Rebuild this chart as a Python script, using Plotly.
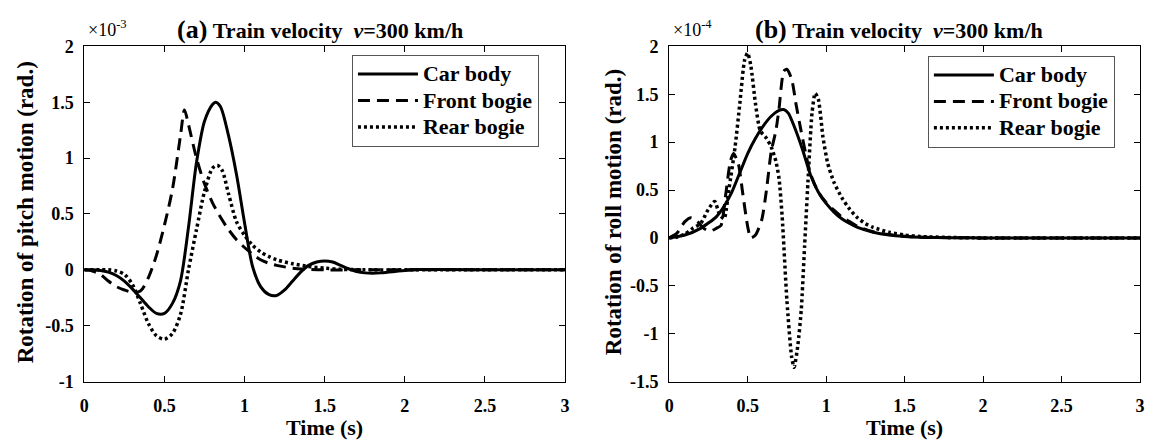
import plotly.graph_objects as go

# ---- (a) pitch rotation, values in units of 1e-3 rad ----
t_car_a = [0, 0.05, 0.1, 0.15, 0.2, 0.25, 0.3, 0.35, 0.4, 0.45, 0.5, 0.55, 0.6, 0.65, 0.7,
           0.75, 0.8, 0.82, 0.85, 0.9, 0.95, 1.0, 1.05, 1.1, 1.15, 1.2, 1.25, 1.3, 1.35, 1.4,
           1.45, 1.5, 1.55, 1.6, 1.65, 1.7, 1.75, 1.8, 1.85, 1.9, 1.95, 2.0, 2.1, 2.2, 2.4,
           2.6, 3.0]
car_a = [0, 0, -0.005, -0.02, -0.05, -0.1, -0.17, -0.25, -0.33, -0.39, -0.39, -0.3, -0.1,
         0.38, 0.96, 1.33, 1.48, 1.5, 1.46, 1.2, 0.85, 0.42, 0.03, -0.15, -0.22, -0.23,
         -0.18, -0.1, -0.02, 0.04, 0.07, 0.08, 0.07, 0.04, 0.01, -0.015, -0.027, -0.03,
         -0.027, -0.02, -0.012, -0.005, 0.003, 0.004, 0.001, 0, 0]

t_front_a = [0, 0.05, 0.1, 0.15, 0.2, 0.25, 0.3, 0.35, 0.4, 0.45, 0.5, 0.55, 0.6, 0.625, 0.65,
             0.7, 0.75, 0.8, 0.85, 0.9, 0.95, 1.0, 1.05, 1.1, 1.15, 1.2, 1.3, 1.4, 1.5, 1.7,
             2.0, 3.0]
front_a = [0, -0.01, -0.04, -0.1, -0.15, -0.18, -0.2, -0.19, -0.07, 0.13, 0.4, 0.72, 1.2,
           1.43, 1.3, 1.0, 0.77, 0.6, 0.47, 0.36, 0.27, 0.2, 0.14, 0.09, 0.06, 0.04, 0.015,
           0.005, 0, 0, 0, 0]

t_rear_a = [0, 0.1, 0.15, 0.2, 0.25, 0.3, 0.35, 0.4, 0.45, 0.5, 0.55, 0.6, 0.65, 0.7, 0.75,
            0.8, 0.83, 0.86, 0.9, 0.95, 1.0, 1.05, 1.1, 1.15, 1.2, 1.3, 1.4, 1.5, 1.6, 1.8,
            2.0, 3.0]
rear_a = [0, 0, 0, -0.01, -0.04, -0.13, -0.3, -0.48, -0.59, -0.62, -0.57, -0.4, 0.0, 0.36,
          0.7, 0.91, 0.935, 0.89, 0.68, 0.43, 0.31, 0.22, 0.16, 0.12, 0.09, 0.055, 0.03,
          0.015, 0.005, 0, 0, 0]

# ---- (b) roll rotation, values in units of 1e-4 rad ----
t_car_b = [0, 0.1, 0.2, 0.3, 0.35, 0.4, 0.45, 0.5, 0.55, 0.6, 0.65, 0.7, 0.73, 0.76, 0.8, 0.85,
           0.9, 0.95, 1.0, 1.05, 1.1, 1.15, 1.2, 1.3, 1.4, 1.5, 1.6, 1.8, 2.0, 3.0]
car_b = [0, 0.03, 0.1, 0.22, 0.33, 0.48, 0.68, 0.88, 1.04, 1.17, 1.27, 1.33, 1.34, 1.3, 1.15,
         0.92, 0.66, 0.48, 0.36, 0.27, 0.2, 0.15, 0.11, 0.06, 0.03, 0.015, 0.007, 0.002, 0, 0]

t_front_b = [0, 0.05, 0.1, 0.14, 0.18, 0.22, 0.26, 0.3, 0.33, 0.36, 0.39, 0.41, 0.44, 0.47,
             0.5, 0.52, 0.55, 0.59, 0.62, 0.65, 0.68, 0.7, 0.73, 0.75, 0.78, 0.81, 0.84, 0.87,
             0.9, 0.95, 1.0, 1.05, 1.1, 1.15, 1.2, 1.3, 1.4, 1.5, 1.6, 1.8, 2.0, 3.0]
front_b = [0, 0.05, 0.17, 0.21, 0.17, 0.1, 0.07, 0.1, 0.13, 0.45, 0.8, 0.88, 0.78, 0.45, 0.12,
           0.0, 0.03, 0.19, 0.5, 0.9, 1.12, 1.35, 1.74, 1.76, 1.66, 1.38, 1.12, 0.88, 0.67,
           0.48, 0.37, 0.29, 0.22, 0.17, 0.12, 0.065, 0.035, 0.017, 0.008, 0.002, 0, 0]

t_rear_b = [0, 0.05, 0.1, 0.15, 0.2, 0.25, 0.29, 0.32, 0.35, 0.38, 0.42, 0.45, 0.48, 0.5, 0.52,
            0.55, 0.58, 0.62, 0.65, 0.68, 0.7, 0.72, 0.75, 0.78, 0.796, 0.82, 0.842, 0.863,
            0.884, 0.91, 0.93, 0.95, 0.98, 1.01, 1.05, 1.1, 1.15, 1.2, 1.25, 1.3, 1.4, 1.5,
            1.6, 1.8, 2.0, 3.0]
rear_b = [0, 0.01, 0.04, 0.1, 0.15, 0.3, 0.38, 0.25, 0.2, 0.5, 0.95, 1.4, 1.85, 1.93, 1.8, 1.4,
          1.12, 1.04, 0.95, 0.8, 0.62, 0.22, -0.65, -1.24, -1.35, -1.12, -0.74, -0.08, 0.58,
          1.3, 1.51, 1.45, 1.05, 0.78, 0.58, 0.42, 0.3, 0.21, 0.15, 0.11, 0.06, 0.03, 0.015,
          0.004, 0, 0]

x_ticks = [0, 0.5, 1, 1.5, 2, 2.5, 3]
x_ticktext = ["0", "0.5", "1", "1.5", "2", "2.5", "3"]
y_ticks_a = [-1, -0.5, 0, 0.5, 1, 1.5, 2]
y_ticktext_a = ["-1", "-0.5", "0", "0.5", "1", "1.5", "2"]
y_ticks_b = [-1.5, -1, -0.5, 0, 0.5, 1, 1.5, 2]
y_ticktext_b = ["-1.5", "-1", "-0.5", "0", "0.5", "1", "1.5", "2"]

series_names = ["Car body", "Front bogie", "Rear bogie"]

W, H = 1149, 448
FONT = "Liberation Serif, Times New Roman, serif"

styles = [dict(color="black", width=3, dash="solid"),
          dict(color="black", width=3, dash="12px,7px"),
          dict(color="black", width=3.5, dash="3px,3px")]

fig = go.Figure()

panel_a = [(t_car_a, car_a), (t_front_a, front_a), (t_rear_a, rear_a)]
panel_b = [(t_car_b, car_b), (t_front_b, front_b), (t_rear_b, rear_b)]

def legend_label(name):
    return f"<span style='font-size:22px'>{name}</span>"

for (tx, vy), name, st in zip(panel_a, series_names, styles):
    fig.add_trace(go.Scatter(x=tx, y=vy, mode="lines", name=legend_label(name), line=st,
                             line_shape="spline", line_smoothing=0.8,
                             xaxis="x", yaxis="y", legend="legend"))
for (tx, vy), name, st in zip(panel_b, series_names, styles):
    fig.add_trace(go.Scatter(x=tx, y=vy, mode="lines", name=legend_label(name), line=st,
                             line_shape="spline", line_smoothing=0.6,
                             xaxis="x2", yaxis="y2", legend="legend2"))

def px_x(p):
    return p / W

def px_y(p):
    return 1 - p / H

ax_common = dict(showline=True, linecolor="black", linewidth=1, mirror="ticks",
                 ticks="inside", ticklen=6, tickcolor="black", showgrid=False,
                 zeroline=False,
                 tickfont=dict(family=FONT, size=18, color="black", weight="bold"))

top, bottom = 38, 389
legend_style = dict(xanchor="left", yanchor="top", bgcolor="white",
                    bordercolor="#555555", borderwidth=1, itemwidth=60,
                    tracegroupgap=0,
                    font=dict(family=FONT, size=18, color="black", weight="bold"))
fig.update_layout(
    width=W, height=H, autosize=False,
    margin=dict(l=0, r=0, t=0, b=0),
    paper_bgcolor="white", plot_bgcolor="white",
    xaxis=dict(domain=[px_x(80), px_x(565)], range=[0, 3], tickvals=x_ticks,
               ticktext=x_ticktext, anchor="y", ticklabelstandoff=8, **ax_common),
    yaxis=dict(domain=[px_y(bottom), px_y(top)], range=[-1, 2], tickvals=y_ticks_a,
               ticktext=y_ticktext_a, anchor="x", ticklabelstandoff=6, **ax_common),
    xaxis2=dict(domain=[px_x(670), px_x(1145)], range=[0, 3], tickvals=x_ticks,
                ticktext=x_ticktext, anchor="y2", ticklabelstandoff=8, **ax_common),
    yaxis2=dict(domain=[px_y(bottom), px_y(top)], range=[-1.5, 2], tickvals=y_ticks_b,
                ticktext=y_ticktext_b, anchor="x2", ticklabelstandoff=6, **ax_common),
    legend=dict(x=px_x(350), y=px_y(47), **legend_style),
    legend2=dict(x=px_x(931), y=px_y(48), **legend_style),
    showlegend=True,
)

ann = []
title_tail = "\u00a0<b>Train velocity\u00a0\u00a0<i>v</i>=300 km/h</b>"
for cx, tag in [(318, "(a)"), (902, "(b)")]:
    ann.append(dict(x=px_x(cx), y=px_y(20), xref="paper", yref="paper",
                    xanchor="center", yanchor="middle", showarrow=False,
                    text=f"<span style='font-size:26px'><b>{tag}</b></span>"
                         f"<span style='font-size:22px'>{title_tail}</span>",
                    font=dict(family=FONT, color="black", size=22)))
for lx, exp in [(82, "-3"), (672, "-4")]:
    ann.append(dict(x=px_x(lx), y=px_y(34), xref="paper", yref="paper",
                    xanchor="left", yanchor="bottom", showarrow=False,
                    text=f"\u00d710<sup>{exp}</sup>",
                    font=dict(family=FONT, color="black", size=18)))
for cx, label in [(322, "Time (s)"), (907, "Time (s)")]:
    ann.append(dict(x=px_x(cx), y=px_y(437), xref="paper", yref="paper",
                    xanchor="center", yanchor="middle", showarrow=False,
                    text=f"<b>{label}</b>",
                    font=dict(family=FONT, color="black", size=22)))
for cx, label in [(21, "Rotation of pitch motion (rad.)"),
                  (614, "Rotation of roll motion (rad.)")]:
    ann.append(dict(x=px_x(cx), y=px_y(212), xref="paper", yref="paper",
                    xanchor="center", yanchor="middle", showarrow=False, textangle=-90,
                    text=f"<b>{label}</b>",
                    font=dict(family=FONT, color="black", size=23)))
fig.update_layout(annotations=ann)

fig.write_html("out.html")
